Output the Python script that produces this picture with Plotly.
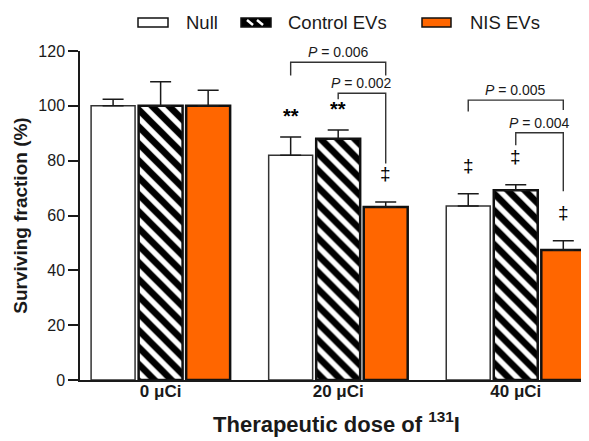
import plotly.graph_objects as go

# ---------------- data ----------------
doses = ["0 μCi", "20 μCi", "40 μCi"]
series_names = ["Null", "Control EVs", "NIS EVs"]
null_vals = [100.0, 82.0, 63.5]
null_err = [2.4, 6.6, 4.4]
ctrl_vals = [100.0, 88.0, 69.2]
ctrl_err = [8.8, 3.2, 2.0]
nis_vals = [100.0, 63.1, 47.4]
nis_err = [5.7, 1.8, 3.4]
null_marks = ["", "**", "‡"]
ctrl_marks = ["", "**", "‡"]
nis_marks = ["", "‡", "‡"]
# comparisons: (dose index, series a, series b, p-value text)
comparisons = [(1, 0, 2, "0.006"), (1, 1, 2, "0.002"), (2, 0, 2, "0.005"), (2, 1, 2, "0.004")]
# bracket levels (y units): top line, left drop, right drop
bracket_levels = [(115.9, 111.1, 111.1), (104.6, 102.4, 79.0), (102.1, 97.9, 98.5), (90.2, 85.6, 68.8)]

# ---------------- style ----------------
FONT = "Liberation Sans, Arial, sans-serif"
INK = "#1a1a1a"
ORANGE = "#FF6600"
W, H = 589, 441
ML, MR, MT, MB = 72, 4, 43, 69
BARGAP, BARGROUPGAP = 0.197, 0.075
XR = [-0.454, 2.435]

vals = [null_vals, ctrl_vals, nis_vals]
errs = [null_err, ctrl_err, nis_err]
marks = [null_marks, ctrl_marks, nis_marks]
xs = list(range(len(doses)))
slot = (1 - BARGAP) / 3


def bar_x(g, s):
    return xs[g] + (s - 1) * slot


styles = [
    dict(color="white", line=dict(color="#333", width=1.5)),
    dict(color="white", line=dict(color="#111", width=2.5),
         pattern=dict(shape="\\", fgcolor="#000000", bgcolor="#ffffff", fgopacity=1,
                      fillmode="replace", size=12, solidity=0.55)),
    dict(color=ORANGE, line=dict(color="#111", width=2.5)),
]

fig = go.Figure()
for s in range(3):
    fig.add_trace(go.Bar(
        x=xs, y=vals[s], name=series_names[s], marker=styles[s],
        error_y=dict(type="data", symmetric=False, array=errs[s],
                     arrayminus=[0] * len(xs), color=INK, thickness=1.5, width=10.5),
        showlegend=False,
    ))

annotations = []
# significance marks
for s in range(3):
    for g in range(len(xs)):
        m = marks[s][g]
        if not m:
            continue
        star = m == "**"
        annotations.append(dict(
            x=bar_x(g, s), y=vals[s][g] + errs[s][g], xref="x", yref="y",
            text=f"<b>{m}</b>" if star else m, showarrow=False, yanchor="bottom",
            yshift=8 if star else 16,
            font=dict(family=FONT, size=20 if star else 19, color="#000000"),
        ))

shapes = []
for (g, a, b, p), (top, ldrop, rdrop) in zip(comparisons, bracket_levels):
    xa, xb = bar_x(g, a), bar_x(g, b)
    shapes.append(dict(
        type="path", xref="x", yref="y",
        path=f"M {xa},{ldrop} L {xa},{top} L {xb},{top} L {xb},{rdrop}",
        line=dict(color="#333", width=1.4),
    ))
    annotations.append(dict(
        x=(xa + xb) / 2, y=top, xref="x", yref="y", text=f"<i>P</i> = {p}",
        showarrow=False, yanchor="bottom", yshift=0,
        font=dict(family=FONT, size=14, color=INK),
    ))

# ---------------- manual legend (pixel -> paper) ----------------
pw, ph = W - ML - MR, H - MT - MB


def px(x):
    return (x - ML) / pw


def py(y):
    return (H - MB - y) / ph


leg_boxes = [(130, 160), (233, 263), (414, 443)]
leg_text_x = [176, 278, 460]
by0, by1 = 10, 19
for i, ((x0, x1), tx) in enumerate(zip(leg_boxes, leg_text_x)):
    fill = ["white", "black", ORANGE][i]
    shapes.append(dict(type="rect", xref="paper", yref="paper",
                       x0=px(x0), x1=px(x1), y0=py(by1), y1=py(by0),
                       fillcolor=fill, line=dict(color="#111", width=1.5)))
    if i == 1:
        for sx in (x0 + 6, x0 + 16):
            shapes.append(dict(type="line", xref="paper", yref="paper",
                               x0=px(sx), x1=px(sx + 6), y0=py(by0 + 2), y1=py(by1 - 2),
                               line=dict(color="white", width=2.5)))
    annotations.append(dict(x=px(tx), y=py((by0 + by1) / 2), xref="paper", yref="paper",
                            text=series_names[i], showarrow=False, xanchor="left",
                            yanchor="middle", font=dict(family=FONT, size=18.5, color=INK)))

fig.update_layout(
    width=W, height=H, margin=dict(l=ML, r=MR, t=MT, b=MB),
    plot_bgcolor="white", paper_bgcolor="white",
    barmode="group", bargap=BARGAP, bargroupgap=BARGROUPGAP,
    font=dict(family=FONT, color=INK),
    shapes=shapes, annotations=annotations, showlegend=False,
)
fig.update_xaxes(
    range=XR, tickvals=xs, ticktext=[f"<b>{d}</b>" for d in doses],
    showline=True, linecolor=INK, linewidth=1.5, showgrid=False, zeroline=False,
    ticks="", ticklabelstandoff=-5,
    tickfont=dict(family=FONT, size=17, color=INK),
    title=dict(text="<b>Therapeutic dose of <sup>131</sup>I</b>",
               font=dict(family=FONT, size=22, color=INK), standoff=16),
)
fig.update_yaxes(
    range=[0, 120], tickvals=[0, 20, 40, 60, 80, 100, 120],
    showline=True, linecolor=INK, linewidth=1.5, showgrid=False, zeroline=False,
    ticks="outside", ticklen=10, tickwidth=1.5, tickcolor=INK,
    tickfont=dict(family=FONT, size=16, color=INK),
    title=dict(text="<b>Surviving fraction (%)</b>",
               font=dict(family=FONT, size=19, color=INK), standoff=6),
)

fig.write_html("out.html")
